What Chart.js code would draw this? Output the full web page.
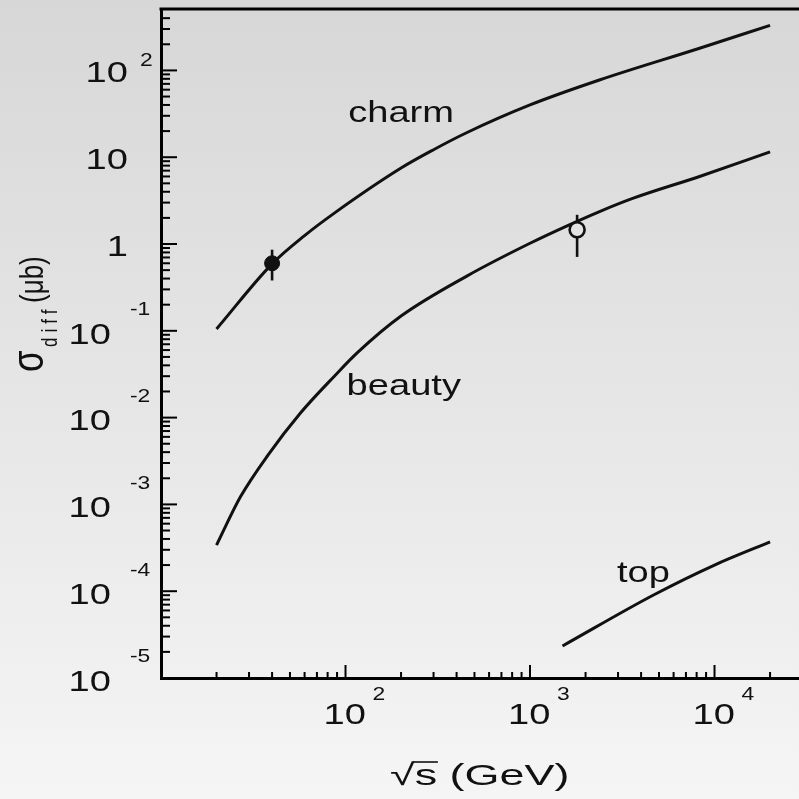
<!DOCTYPE html>
<html>
<head>
<meta charset="utf-8">
<script src="https://cdn.jsdelivr.net/npm/chart.js@4.4.1/dist/chart.umd.min.js"></script>
<style>
html,body{margin:0;padding:0;overflow:hidden;background:#e6e6e6;}
#wrap{width:799px;height:799px;}
</style>
</head>
<body>
<div id="wrap"><canvas id="c" width="799" height="799"></canvas></div>
<script>
// ---------------- data ----------------
const xCharm = [20, 40, 60, 87, 200, 300, 450, 1000, 2400, 8300, 20000];
const yCharm = [0.105, 0.59, 1.25, 2.27, 7.5, 12.2, 19, 40, 78, 180, 330];
const xBeauty = [20, 27, 38, 57, 87, 116, 200, 457, 1000, 1600, 2400, 3600, 8300, 20000];
const yBeauty = [3.4e-4, 1.23e-3, 3.7e-3, 0.0113, 0.030, 0.056, 0.148, 0.43, 1.02, 1.63, 2.38, 3.35, 6.0, 11.5];
const xTop = [1500, 4700, 10000, 20000];
const yTop = [2.34e-5, 9.1e-5, 2.0e-4, 3.7e-4];

const measX = [40, 1800];
const measY = [0.60, 1.46];
const measLo = [0.38, 0.71];
const measHi = [0.86, 2.17];

const curveNames = ['charm', 'beauty', 'top'];

const xTickValues = [100, 1000, 10000];
const xTickBase = ['10', '10', '10'];
const xTickExp = ['2', '3', '4'];
const yTickValues = [1e-5, 1e-4, 1e-3, 1e-2, 1e-1, 1, 10, 100];
const yTickBase = ['10', '10', '10', '10', '10', '1', '10', '10'];
const yTickExp = ['-5', '-4', '-3', '-2', '-1', '', '', '2'];
const minorMultipliers = [2, 3, 4, 5, 6, 7, 8, 9];

const xTitle = '√s (GeV)';
const yTitleMain = 'σ';
const yTitleSub = 'diff';
const yTitleUnit = '(μb)';

// ---------------- helpers ----------------
const FONT = '"Liberation Sans", Arial, Helvetica, sans-serif';
const SX = 1.27;   // horizontal stretch of the reference picture
const INK = '#111';

function pts(xs, ys){ return xs.map((x,i)=>({x:x, y:ys[i]})); }

function buildTicks(lo, hi){
  const out = [];
  for (let e = Math.floor(Math.log10(lo)) - 1; e <= Math.ceil(Math.log10(hi)); e++){
    const base = Math.pow(10, e);
    out.push({value: base, major: true});
    minorMultipliers.forEach(m => out.push({value: m*base, major: false}));
  }
  return out.filter(t => t.value >= lo*0.999 && t.value <= hi*1.001);
}

function txt(ctx, s, x, y, size, align, sx){
  ctx.save();
  ctx.font = size + 'px ' + FONT;
  ctx.textBaseline = 'alphabetic';
  ctx.textAlign = 'left';
  const m = ctx.measureText(s);
  const w = (m.actualBoundingBoxRight + m.actualBoundingBoxLeft) * sx;
  let x0 = x;
  if (align === 'right') x0 = x - w;
  else if (align === 'center') x0 = x - w/2;
  ctx.translate(x0 + m.actualBoundingBoxLeft*sx, y);
  ctx.scale(sx, 1);
  ctx.fillStyle = INK;
  ctx.fillText(s, 0, 0);
  ctx.restore();
  return {x0: x0, w: w};
}

function rotTxt(ctx, s, baseX, bottomY, size, spacing){
  ctx.save();
  ctx.font = size + 'px ' + FONT;
  ctx.textBaseline = 'alphabetic';
  ctx.textAlign = 'left';
  if (spacing) ctx.letterSpacing = spacing + 'px';
  ctx.translate(baseX, bottomY);
  ctx.scale(SX, 1);
  ctx.rotate(-Math.PI/2);
  ctx.fillStyle = INK;
  ctx.fillText(s, 0, 0);
  ctx.restore();
}

const labelAnchors = [
  {x: 105, y: 25.6},
  {x: 103, y: 0.0183},
  {x: 2960, y: 1.28e-4}
];

// ---------------- plugins ----------------
const bgPlugin = {
  id: 'bg',
  beforeDraw(chart){
    const ctx = chart.ctx;
    const g = ctx.createLinearGradient(0, 0, 0, chart.height);
    g.addColorStop(0, '#d7d7d7');
    g.addColorStop(1, '#f5f5f5');
    ctx.save();
    ctx.fillStyle = g;
    ctx.fillRect(0, 0, chart.width, chart.height);
    ctx.restore();
  }
};

const errPlugin = {
  id: 'errbars',
  beforeDatasetsDraw(chart){
    const {ctx, scales:{x, y}} = chart;
    ctx.save();
    ctx.strokeStyle = INK;
    ctx.lineWidth = 2.6;
    measX.forEach((v, i) => {
      const px = x.getPixelForValue(v);
      ctx.beginPath();
      ctx.moveTo(px, y.getPixelForValue(measHi[i]));
      ctx.lineTo(px, y.getPixelForValue(measLo[i]));
      ctx.stroke();
    });
    ctx.restore();
  }
};

const axesPlugin = {
  id: 'axesdeco',
  afterDraw(chart){
    const {ctx, chartArea:a, scales:{x, y}} = chart;
    ctx.save();
    ctx.strokeStyle = '#000';
    // top frame line
    ctx.lineWidth = 3;
    ctx.beginPath(); ctx.moveTo(a.left - 1.5, a.top); ctx.lineTo(chart.width, a.top); ctx.stroke();
    // inward ticks
    x.ticks.forEach(t => {
      const px = x.getPixelForValue(t.value);
      if (px < a.left + 2 || px > a.right) return;
      ctx.lineWidth = 2;
      ctx.beginPath(); ctx.moveTo(px, a.bottom); ctx.lineTo(px, a.bottom - (t.major ? 13 : 6)); ctx.stroke();
    });
    y.ticks.forEach(t => {
      const py = y.getPixelForValue(t.value);
      if (py < a.top + 1 || py > a.bottom - 2) return;
      ctx.lineWidth = 2;
      ctx.beginPath(); ctx.moveTo(a.left, py); ctx.lineTo(a.left + (t.major ? 16 : 9), py); ctx.stroke();
    });
    ctx.restore();

    // y tick labels
    yTickValues.forEach((v, i) => {
      const py = y.getPixelForValue(v);
      if (v >= 1){
        txt(ctx, yTickBase[i], a.left - 34, py + 1 + 10.7, 30, 'right', SX);
        if (yTickExp[i]) txt(ctx, yTickExp[i], a.left - 21, py - 11 + 6.4, 18, 'left', SX);
      } else {
        txt(ctx, yTickBase[i], a.left - 51, py + 2 + 10.7, 30, 'right', SX);
        txt(ctx, yTickExp[i], a.left - 31, py - 22 + 6.4, 18, 'left', SX);
      }
    });
    // x tick labels
    xTickValues.forEach((v, i) => {
      const px = x.getPixelForValue(v);
      txt(ctx, xTickBase[i], px, a.bottom + 35 + 10.7, 30, 'center', SX);
      txt(ctx, xTickExp[i], px + 27, a.bottom + 16 + 6.4, 18, 'left', SX);
    });

    // curve labels
    curveNames.forEach((n, i) => {
      txt(ctx, n, x.getPixelForValue(labelAnchors[i].x), y.getPixelForValue(labelAnchors[i].y), 30, 'left', SX);
    });

    // x title with overbar on s
    ctx.save();
    ctx.font = '30px ' + FONT;
    const mAll = ctx.measureText(xTitle);
    const inkW = mAll.actualBoundingBoxRight + mAll.actualBoundingBoxLeft;
    const sxT = 178 / inkW;
    const left = 479 - inkW*sxT/2;
    const base = a.bottom + 107;
    ctx.restore();
    txt(ctx, xTitle, 479, base, 30, 'center', sxT);
    ctx.save();
    ctx.font = '30px ' + FONT;
    const mRoot = ctx.measureText(xTitle.slice(0,1));
    const mRootS = ctx.measureText(xTitle.slice(0,2));
    const xr0 = left + (mRoot.width - 1) * sxT;
    const xr1 = left + (mRootS.width + 0.5) * sxT;
    const ytop = base - mRoot.actualBoundingBoxAscent + 1;
    ctx.strokeStyle = INK; ctx.lineWidth = 1.6;
    ctx.beginPath(); ctx.moveTo(xr0, ytop); ctx.lineTo(xr1, ytop); ctx.stroke();
    ctx.restore();

    // y title (rotated)
    rotTxt(ctx, yTitleMain, 43, 372, 35, 0);
    rotTxt(ctx, yTitleSub, 57, 347, 17, 5);
    rotTxt(ctx, yTitleUnit, 43, 303, 26, 0);
  }
};

// ---------------- chart ----------------
const lineStyle = {showLine: true, pointRadius: 0, borderColor: INK, borderWidth: 3,
  cubicInterpolationMode: 'monotone', fill: false, order: 2};

new Chart(document.getElementById('c'), {
  type: 'scatter',
  data: {
    datasets: [
      Object.assign({label: curveNames[0], data: pts(xCharm, yCharm)}, lineStyle),
      Object.assign({label: curveNames[1], data: pts(xBeauty, yBeauty)}, lineStyle),
      Object.assign({label: curveNames[2], data: pts(xTop, yTop)}, lineStyle),
      {label: 'filled', data: [{x: measX[0], y: measY[0]}], pointRadius: 7.5, pointBackgroundColor: INK,
       pointBorderColor: INK, pointBorderWidth: 1, order: 0},
      {label: 'open', data: [{x: measX[1], y: measY[1]}], pointRadius: 7.5, pointBackgroundColor: '#e3e3e3',
       pointBorderColor: INK, pointBorderWidth: 2.6, order: 0}
    ]
  },
  options: {
    responsive: false,
    animation: false,
    layout: {autoPadding: false, padding: {left: 161, top: 9, right: 0, bottom: 121}},
    plugins: {legend: {display: false}, tooltip: {enabled: false}},
    scales: {
      x: {
        type: 'logarithmic', min: 10, max: 28700,
        ticks: {display: false},
        grid: {display: false, drawTicks: false},
        border: {display: true, color: '#000', width: 3},
        afterBuildTicks(scale){ scale.ticks = buildTicks(10, 28700); }
      },
      y: {
        type: 'logarithmic', min: 1e-5, max: 510,
        ticks: {display: false},
        grid: {display: false, drawTicks: false},
        border: {display: true, color: '#000', width: 3},
        afterBuildTicks(scale){ scale.ticks = buildTicks(1e-5, 510); }
      }
    }
  },
  plugins: [bgPlugin, errPlugin, axesPlugin]
});
</script>
</body>
</html>
